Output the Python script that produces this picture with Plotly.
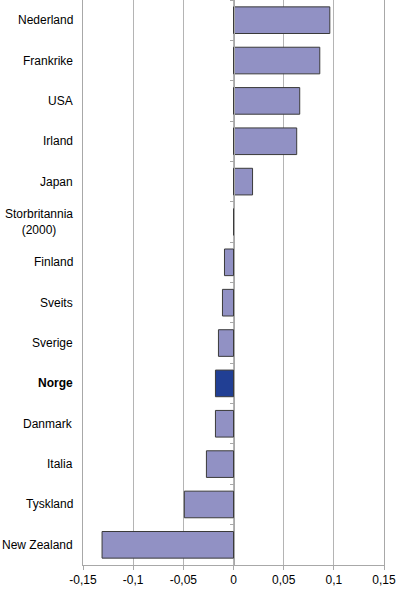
import plotly.graph_objects as go

countries = ["Nederland", "Frankrike", "USA", "Irland", "Japan",
             "Storbritannia<br>(2000)", "Finland", "Sveits", "Sverige",
             "Norge", "Danmark", "Italia", "Tyskland", "New Zealand"]
values = [0.096, 0.086, 0.066, 0.063, 0.019, 0.0, -0.009, -0.011, -0.015,
          -0.018, -0.018, -0.027, -0.049, -0.131]
highlight = "Norge"

x_ticks = [-0.15, -0.1, -0.05, 0, 0.05, 0.1, 0.15]
x_ticklabels = ["-0,15", "-0,1", "-0,05", "0", "0,05", "0,1", "0,15"]

base_color = "#9191C4"
hi_color = "#213F94"
colors = [hi_color if c == highlight else base_color for c in countries]
FONT = "Liberation Sans, Arial, sans-serif"

fig = go.Figure()
fig.add_trace(go.Bar(
    x=values, y=countries, orientation="h", width=0.66,
    marker=dict(color=colors, line=dict(color="#3a3a3a", width=1)),
    hoverinfo="skip", showlegend=False,
))
# invisible trace to drive the category axis drawn at zero
fig.add_trace(go.Bar(
    x=[0] * len(countries), y=countries, orientation="h", yaxis="y2",
    marker=dict(color="rgba(0,0,0,0)", line=dict(width=0)),
    hoverinfo="skip", showlegend=False,
))

for c in countries:
    label = f"<b>{c}</b>" if c == highlight else c
    fig.add_annotation(
        x=0, xref="paper", y=c, yref="y", text=label, showarrow=False,
        xanchor="right", xshift=-8, align="center",
        font=dict(family=FONT, size=12, color="#000"),
    )

n = len(countries)
fig.update_layout(
    template="none",
    width=397, height=590,
    margin=dict(l=83, r=13, t=0, b=25, autoexpand=False),
    paper_bgcolor="white", plot_bgcolor="white",
    font=dict(family=FONT, size=12, color="#000"),
    barmode="overlay",
    xaxis=dict(
        range=[-0.15, 0.15], tickvals=x_ticks, ticktext=x_ticklabels,
        showgrid=True, gridcolor="#b4b4b4", gridwidth=1,
        showline=True, linecolor="#a8a8a8", linewidth=1, mirror=True,
        ticks="outside", ticklen=4, tickcolor="#a8a8a8",
        zeroline=False, fixedrange=True, automargin=False,
        tickfont=dict(family=FONT, size=12, color="#000"),
    ),
    yaxis=dict(
        type="category", categoryarray=countries, categoryorder="array",
        range=[n - 0.5, -0.5], showticklabels=False, ticks="",
        showgrid=False, zeroline=False, showline=True, mirror=True,
        linecolor="#a8a8a8", linewidth=1, automargin=False,
    ),
    yaxis2=dict(
        type="category", categoryarray=countries, categoryorder="array",
        range=[n - 0.5, -0.5], overlaying="y", anchor="free", position=0.5,
        side="left", showticklabels=False, ticks="outside", ticklen=4,
        tickson="boundaries", tickcolor="#a8a8a8", automargin=False,
        showline=True, linecolor="#a8a8a8", linewidth=1, showgrid=False,
        zeroline=False,
    ),
)

fig.write_html("out.html", config={"displayModeBar": False},
               post_script="document.body.style.margin='0';")
